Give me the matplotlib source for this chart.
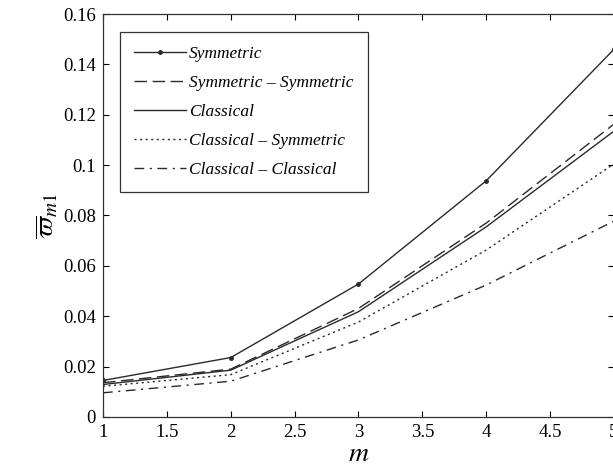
import matplotlib
matplotlib.use("Agg")
import matplotlib.pyplot as plt

# values
m = [1, 2, 3, 4, 5]
symmetric = [0.0145, 0.0236, 0.0528, 0.0938, 0.1460]
sym_sym = [0.0136, 0.0190, 0.0431, 0.0770, 0.1163]
classical = [0.0129, 0.0186, 0.0418, 0.0755, 0.1135]
class_sym = [0.0122, 0.0168, 0.0377, 0.0663, 0.1005]
class_class = [0.0096, 0.0142, 0.0306, 0.0524, 0.0778]

xticks = [1, 1.5, 2, 2.5, 3, 3.5, 4, 4.5, 5]
xtick_labels = ["1", "1.5", "2", "2.5", "3", "3.5", "4", "4.5", "5"]
yticks = [0, 0.02, 0.04, 0.06, 0.08, 0.1, 0.12, 0.14, 0.16]
ytick_labels = ["0", "0.02", "0.04", "0.06", "0.08", "0.1", "0.12", "0.14", "0.16"]

plt.rcParams["font.family"] = ["Liberation Serif", "DejaVu Serif"]
plt.rcParams["mathtext.fontset"] = "stix"

fig = plt.figure(figsize=(6.13, 4.73), dpi=100)
ax = fig.add_axes([0.168, 0.1184, 0.8336, 0.852])

col = "#2a2a2a"
ax.plot(m, symmetric, "-", color=col, lw=1.0, marker="o", ms=2.5, label="Symmetric")
ax.plot(m, sym_sym, color=col, lw=1.0, dashes=(9, 4), label="Symmetric \u2013 Symmetric")
ax.plot(m, classical, "-", color=col, lw=1.0, label="Classical")
ax.plot(m, class_sym, color=col, lw=1.0, dashes=(1.5, 2.5), label="Classical \u2013 Symmetric")
ax.plot(m, class_class, color=col, lw=1.0, dashes=(7, 4, 1.5, 4), label="Classical \u2013 Classical")

ax.set_xlim(1, 5)
ax.set_ylim(0, 0.16)
ax.set_xticks(xticks)
ax.set_xticklabels(xtick_labels)
ax.set_yticks(yticks)
ax.set_yticklabels(ytick_labels)
ax.tick_params(direction="in", top=True, right=True, labelsize=13.5, length=4, width=0.8, pad=5)
for s in ax.spines.values():
    s.set_linewidth(0.9)
    s.set_color("#333333")

ax.set_xlabel("$m$", fontsize=20, labelpad=1)
ax.set_ylabel(r"$\overline{\varpi}_{m1}$", fontsize=20, labelpad=2)

leg = ax.legend(loc="upper left", bbox_to_anchor=(0.016, 0.978),
                prop={"style": "italic", "size": 12.5}, handlelength=3.0, handletextpad=0.2,
                labelspacing=0.75, borderpad=0.8, fancybox=False, framealpha=1)
leg.get_frame().set_edgecolor("#333333")
leg.get_frame().set_linewidth(0.9)

fig.savefig("out.png", dpi=100)
